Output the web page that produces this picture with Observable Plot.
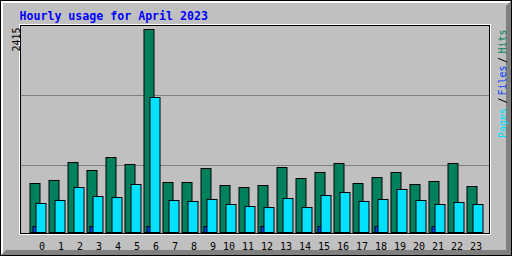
<!DOCTYPE html>
<html><head><meta charset="utf-8">
<script src="https://cdn.jsdelivr.net/npm/d3@7"></script>
<script src="https://cdn.jsdelivr.net/npm/@observablehq/plot@0.6"></script>
<style>html,body{margin:0;padding:0;background:#fff;} #chart{width:512px;height:256px;overflow:hidden;}</style>
</head><body><div id="chart"></div>
<script>
const title = "Hourly usage for April 2023";
const hours = [0,1,2,3,4,5,6,7,8,9,10,11,12,13,14,15,16,17,18,19,20,21,22,23];
const hits  = [583,619,833,738,892,809,2415,595,595,761,559,535,559,773,642,714,821,583,654,714,571,607,821,547];
const files = [71,0,0,71,0,0,71,0,0,71,0,0,71,0,0,71,0,0,71,0,0,71,0,0];
const pages = [345,381,535,428,416,571,1606,381,369,393,333,309,297,404,297,440,476,369,393,512,381,333,357,333];
const maxValue = 2415;
const maxLabel = "2415";
const legendLabels = ["Pages","/","Files","/","Hits"];
const legendColors = ["#00E0FF","#000000","#0040FF","#000000","#00805C"];

const rows = hours.map((h,i)=>({hour:h, hits:hits[i], files:files[i], pages:pages[i]}));
// grid lines at 1/3 and 2/3 of plot area height (webalizer style)
const gridValues = [maxValue*67.5/203, maxValue*137.5/203];

const legendMarks = [
  {i:0, dy:112.5, anchor:"start"},
  {i:1, dy:75, anchor:"middle"},
  {i:2, dy:70, anchor:"start"},
  {i:3, dy:34.5, anchor:"middle"},
  {i:4, dy:28, anchor:"start"}
].map(o => Plot.text([legendLabels[o.i]], {
  frameAnchor:"top-right", dx:16, dy:o.dy, rotate:-90, lineAnchor:"bottom",
  textAnchor:o.anchor, fill:legendColors[o.i]
}));

const chart = Plot.plot({
  width:512, height:256,
  marginLeft:20, marginRight:23, marginTop:25, marginBottom:23,
  x:{type:"band", domain:hours, range:[29.5,485.5], padding:0, align:0, axis:null},
  y:{domain:[0,maxValue], range:[232.5,29.5], axis:null},
  style:{background:"#C0C0C0", fontFamily:"'DejaVu Sans Mono', monospace", fontSize:"10px", color:"black", overflow:"visible"},
  marks:[
    Plot.ruleY(gridValues, {stroke:"#808080", strokeWidth:1}),
    Plot.frame({stroke:"black"}),
    Plot.barY(rows, {x:"hour", y:"hits", fill:"#00805C", stroke:"black", insetRight:9}),
    Plot.barY(rows.filter(d=>d.files>0), {x:"hour", y:"files", fill:"#0040FF", stroke:"black", insetLeft:3, insetRight:6}),
    Plot.barY(rows, {x:"hour", y:"pages", fill:"#00E0FF", stroke:"black", insetLeft:6, insetRight:3}),
    Plot.text(hours.filter(h=>h<10), {x:d=>d, text:d=>String(d), frameAnchor:"bottom", lineAnchor:"bottom", dy:16, dx:2}),
    Plot.text(hours.filter(h=>h>=10), {x:d=>d, text:d=>String(d), frameAnchor:"bottom", lineAnchor:"bottom", dy:16, dx:-1}),
    Plot.text([title], {frameAnchor:"top-left", dx:-1, dy:-6, lineAnchor:"bottom", textAnchor:"start", fill:"#0000FF", fontWeight:"bold", fontSize:11.6}),
    Plot.text([maxLabel], {frameAnchor:"top-left", dx:-1, dy:26, rotate:-90, lineAnchor:"bottom", textAnchor:"start"}),
    ...legendMarks
  ]
});
document.getElementById("chart").appendChild(chart);

// image border / bevel decoration
const svg = d3.select(chart);
const deco = svg.insert("g", ":first-child");
deco.append("path").attr("d","M1,1H511V3H3V255H1Z").attr("fill","#FFFFFF");
deco.append("path").attr("d","M1,255L6,250H506V6L511,1V255Z").attr("fill","#808080");
deco.append("rect").attr("x",0.5).attr("y",0.5).attr("width",511).attr("height",255).attr("fill","none").attr("stroke","black");
deco.append("rect").attr("x",19.5).attr("y",24.5).attr("width",471).attr("height",210).attr("fill","none").attr("stroke","white");
</script>
</body></html>
